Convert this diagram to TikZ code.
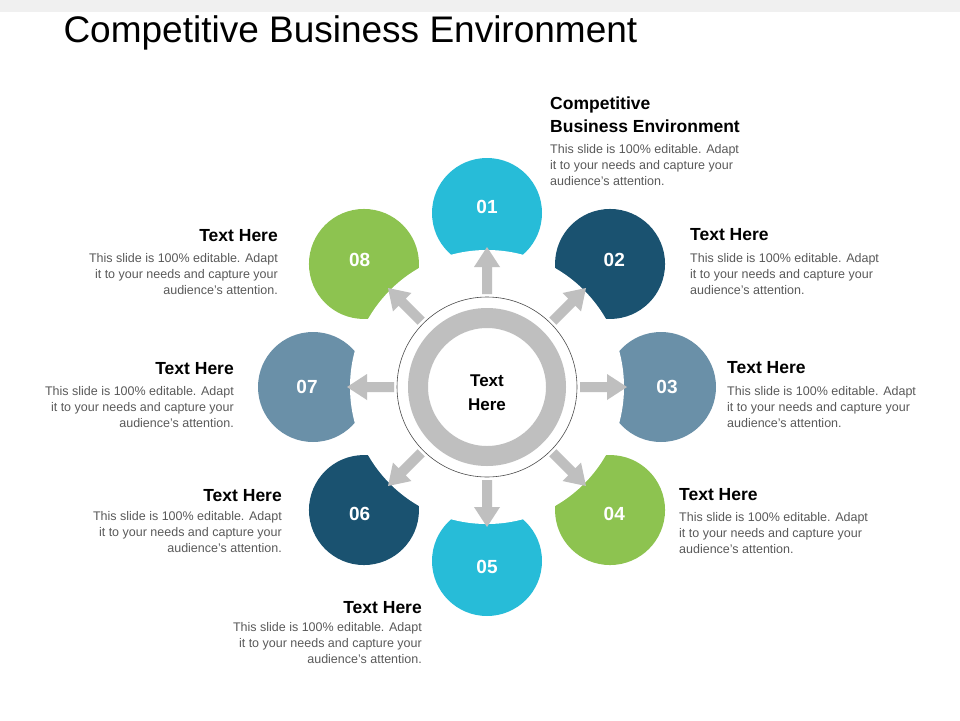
\documentclass[tikz,border=0pt]{standalone}
\usepackage{fontspec}
\setmainfont{Liberation Sans}
\usetikzlibrary{positioning}
\usetikzlibrary{calc}
\definecolor{cyanp}{HTML}{27BCD8}
\definecolor{darkp}{HTML}{1A5270}
\definecolor{steelp}{HTML}{6A90A8}
\definecolor{greenp}{HTML}{8DC350}
\definecolor{bodygrey}{HTML}{595959}
\definecolor{ringgrey}{HTML}{BFBFBF}
\tikzset{
  heading/.style={font=\fontsize{17.5}{22}\selectfont\bfseries, inner sep=0pt},
  bodytext/.style={font=\fontsize{12.5}{16}\selectfont, text=bodygrey, inner sep=0pt},
  numtext/.style={font=\fontsize{19}{22}\selectfont\bfseries, text=white},
}
\begin{document}
\begin{tikzpicture}[x=1pt,y=-1pt]
  \useasboundingbox (0,0) rectangle (960,720);
  \fill[black!6] (0,0) rectangle (960,12);
  \node[anchor=west, font=\fontsize{37}{42}\selectfont] (title) at (60,33) {Competitive Business Environment};

  % petals
  \foreach \ang/\col in {90/cyanp, 45/darkp, 0/steelp, -45/greenp,
                         -90/cyanp, -135/darkp, 180/steelp, 135/greenp} {
    \fill[\col] (487,387) ++(\ang:174 and -174) circle (55);
  }
  \fill[white] (487,387) circle (137);
  \foreach \ang/\num in {90/01, 45/02, 0/03, -45/04, -90/05, -135/06, 180/07, 135/08} {
    \node[numtext] (p\num) at ($(487,387)+({180*cos(\ang)},{-180*sin(\ang)})$) {\num};
  }

  % arrows
  \foreach \ang in {0,45,...,315} {
    \fill[ringgrey, shift={(487,387)}, rotate=-\ang]
      (93,-5) -- (120,-5) -- (120,-13) -- (140,0) -- (120,13) -- (120,5) -- (93,5) -- cycle;
  }

  % centre
  \draw[black!70, line width=0.6pt] (487,387) circle (90);
  \fill[ringgrey, even odd rule] (487,387) circle (79) circle (59);
  \node[font=\fontsize{17}{24}\selectfont\bfseries, align=center] (hub) at (487,393) {Text\\Here};

  % labels
  \node[heading, anchor=north west, align=left] (h1) at (550,97) {Competitive\\[1pt]Business Environment};
  \node[bodytext, anchor=north west, align=left] (b1) at (550,144) {This slide is 100\% editable. Adapt\\it to your needs and capture your\\audience's attention.};
  \node[heading, anchor=north west] (h2) at (690,228) {Text Here};
  \node[bodytext, anchor=north west, align=left] (b2) at (690,253) {This slide is 100\% editable. Adapt\\it to your needs and capture your\\audience's attention.};
  \node[heading, anchor=north west] (h3) at (727,361) {Text Here};
  \node[bodytext, anchor=north west, align=left] (b3) at (727,386) {This slide is 100\% editable. Adapt\\it to your needs and capture your\\audience's attention.};
  \node[heading, anchor=north west] (h4) at (679,488) {Text Here};
  \node[bodytext, anchor=north west, align=left] (b4) at (679,512) {This slide is 100\% editable. Adapt\\it to your needs and capture your\\audience's attention.};
  \node[heading, anchor=north east] (h5) at (422,601) {Text Here};
  \node[bodytext, anchor=north east, align=right] (b5) at (422,622) {This slide is 100\% editable. Adapt\\it to your needs and capture your\\audience's attention.};
  \node[heading, anchor=north east] (h6) at (282,489) {Text Here};
  \node[bodytext, anchor=north east, align=right] (b6) at (282,511) {This slide is 100\% editable. Adapt\\it to your needs and capture your\\audience's attention.};
  \node[heading, anchor=north east] (h7) at (234,362) {Text Here};
  \node[bodytext, anchor=north east, align=right] (b7) at (234,386) {This slide is 100\% editable. Adapt\\it to your needs and capture your\\audience's attention.};
  \node[heading, anchor=north east] (h8) at (278,229) {Text Here};
  \node[bodytext, anchor=north east, align=right] (b8) at (278,253) {This slide is 100\% editable. Adapt\\it to your needs and capture your\\audience's attention.};
\end{tikzpicture}
\end{document}
